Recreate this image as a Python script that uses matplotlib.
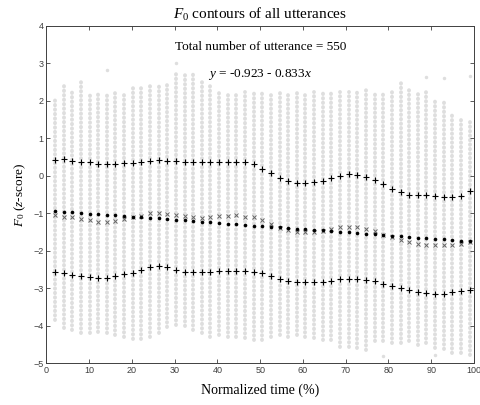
# F0 contours plot (z-score) with mean / regression / +-sd markers
import numpy as np
import matplotlib
matplotlib.use('Agg')
import matplotlib.pyplot as plt

plt.rcParams['mathtext.fontset'] = 'custom'
plt.rcParams['mathtext.rm'] = 'Liberation Serif'
plt.rcParams['mathtext.it'] = 'Liberation Serif:italic'

# time positions of the 49 sample columns (normalized time, %)
t = np.arange(1, 50) * 2.02

# extent of the grey utterance points in every column
col_top = [2.02, 2.39, 2.24, 2.57, 2.24, 2.24, 2.24, 2.24, 2.24, 2.36,
           2.35, 2.48, 2.48, 2.51, 2.75, 2.75, 2.75, 2.51, 2.47, 2.24,
           2.24, 2.24, 2.24, 2.24, 2.24, 2.24, 2.24, 2.24, 2.24, 2.24,
           2.24, 2.24, 2.24, 2.24, 2.24, 2.24, 2.28, 2.24, 2.24, 2.24,
           2.48, 2.36, 2.22, 2.22, 2.06, 2.0, 1.62, 1.59, 1.55]
col_bot = [-3.85, -4.07, -4.11, -4.19, -4.20, -4.16, -4.20, -4.25, -4.31, -4.36,
           -4.36, -4.29, -4.20, -4.03, -3.98, -4.00, -4.11, -4.20, -4.29, -4.25,
           -4.31, -4.31, -4.33, -4.38, -4.38, -4.30, -4.25, -4.30, -4.25, -4.30,
           -4.34, -4.38, -4.38, -4.56, -4.58, -4.60, -4.65, -4.40, -4.40, -4.45,
           -4.47, -4.40, -4.52, -4.47, -4.60, -4.62, -4.72, -4.74, -4.78]

# isolated grey points (column number, value)
out_col = [7, 15, 44, 46, 49, 39, 45]
out_val = [2.82, 3.01, 2.64, 2.60, 2.66, -4.81, -4.78]

# mean + sd
upper = [0.42, 0.44, 0.40, 0.37, 0.36, 0.31, 0.31, 0.31, 0.33, 0.33,
         0.36, 0.40, 0.42, 0.40, 0.40, 0.36, 0.36, 0.36, 0.36, 0.37,
         0.37, 0.37, 0.36, 0.31, 0.18, 0.06, -0.07, -0.13, -0.19, -0.19,
         -0.17, -0.13, -0.05, 0.00, 0.05, 0.03, -0.04, -0.11, -0.23, -0.35,
         -0.43, -0.52, -0.52, -0.52, -0.55, -0.58, -0.57, -0.53, -0.42]
# mean
mean = [-1.05, -1.09, -1.11, -1.15, -1.18, -1.23, -1.23, -1.20, -1.16, -1.09,
        -1.07, -1.00, -1.00, -1.03, -1.05, -1.07, -1.11, -1.14, -1.11, -1.07,
        -1.07, -1.05, -1.11, -1.11, -1.18, -1.30, -1.39, -1.45, -1.49, -1.51,
        -1.49, -1.47, -1.42, -1.38, -1.36, -1.38, -1.42, -1.47, -1.58, -1.63,
        -1.71, -1.76, -1.82, -1.85, -1.85, -1.85, -1.85, -1.83, -1.76]
# regression line
fit = [-0.94, -0.96, -0.97, -0.99, -1.01, -1.02, -1.04, -1.06, -1.07, -1.09,
       -1.11, -1.13, -1.14, -1.16, -1.18, -1.19, -1.21, -1.23, -1.24, -1.26,
       -1.28, -1.29, -1.31, -1.33, -1.34, -1.36, -1.38, -1.39, -1.41, -1.43,
       -1.45, -1.46, -1.48, -1.50, -1.51, -1.53, -1.55, -1.56, -1.58, -1.60,
       -1.61, -1.63, -1.65, -1.66, -1.68, -1.70, -1.71, -1.73, -1.75]
# mean - sd
lower = [-2.56, -2.60, -2.65, -2.67, -2.69, -2.74, -2.74, -2.67, -2.62, -2.59,
         -2.51, -2.43, -2.41, -2.43, -2.52, -2.56, -2.56, -2.56, -2.56, -2.54,
         -2.53, -2.54, -2.54, -2.56, -2.60, -2.67, -2.76, -2.81, -2.83, -2.83,
         -2.83, -2.83, -2.80, -2.76, -2.76, -2.76, -2.78, -2.81, -2.89, -2.94,
         -3.00, -3.05, -3.09, -3.14, -3.15, -3.15, -3.09, -3.07, -3.05]

fig = plt.figure(figsize=(4.8, 4.05), dpi=100)
ax = fig.add_axes([0.0965, 0.1032, 0.891, 0.8333])

grey = '#dedede'
vl = ax.vlines(t, col_bot, col_top, color=grey, linewidth=2.8, zorder=1,
               linestyles=[(0, (0.1, 1.05))])
vl.set_capstyle('round')
ax.plot(t[np.array(out_col) - 1], out_val, 'o', color=grey, markersize=2.5,
        markeredgewidth=0, zorder=1)

ax.plot(t, upper, '+', color='black', markersize=4.9, markeredgewidth=0.8, zorder=3)
ax.plot(t, lower, '+', color='black', markersize=4.9, markeredgewidth=0.8, zorder=3)
ax.plot(t, mean, 'x', color='#666666', markersize=3.3, markeredgewidth=0.7, zorder=3)
ax.plot(t, fit, 'o', color='black', markersize=2.6, markeredgewidth=0, zorder=4)

ax.set_xlim(0, 100)
ax.set_ylim(-5, 4)
ax.set_xticks(range(0, 101, 10))
ax.set_yticks(range(-5, 5))
ax.tick_params(direction='in', top=True, right=True, length=3, width=0.6,
               colors='#404040', labelsize=6.5, pad=2)
for lab in ax.get_xticklabels() + ax.get_yticklabels():
    lab.set_fontfamily('Liberation Sans')
for s in ax.spines.values():
    s.set_color('#404040')
    s.set_linewidth(0.7)

serif = 'Liberation Serif'
ax.set_title(r'$\mathit{F}_0$ contours of all utterances', fontsize=11,
             family=serif, pad=5)
ax.set_xlabel('Normalized time (%)', fontsize=10, family=serif, labelpad=6)
ax.set_ylabel(r'$\mathit{F}_0$ ($\mathit{z}$-score)', fontsize=9.5, family=serif,
              labelpad=4)

ax.text(50.2, 3.43, 'Total number of utterance = 550', ha='center', va='center',
        fontsize=9.5, family=serif)
ax.text(50.0, 2.69, r'$\mathit{y}$ = -0.923 - 0.833$\mathit{x}$', ha='center',
        va='center', fontsize=9.5, family=serif)

fig.savefig('out.png', dpi=100)
